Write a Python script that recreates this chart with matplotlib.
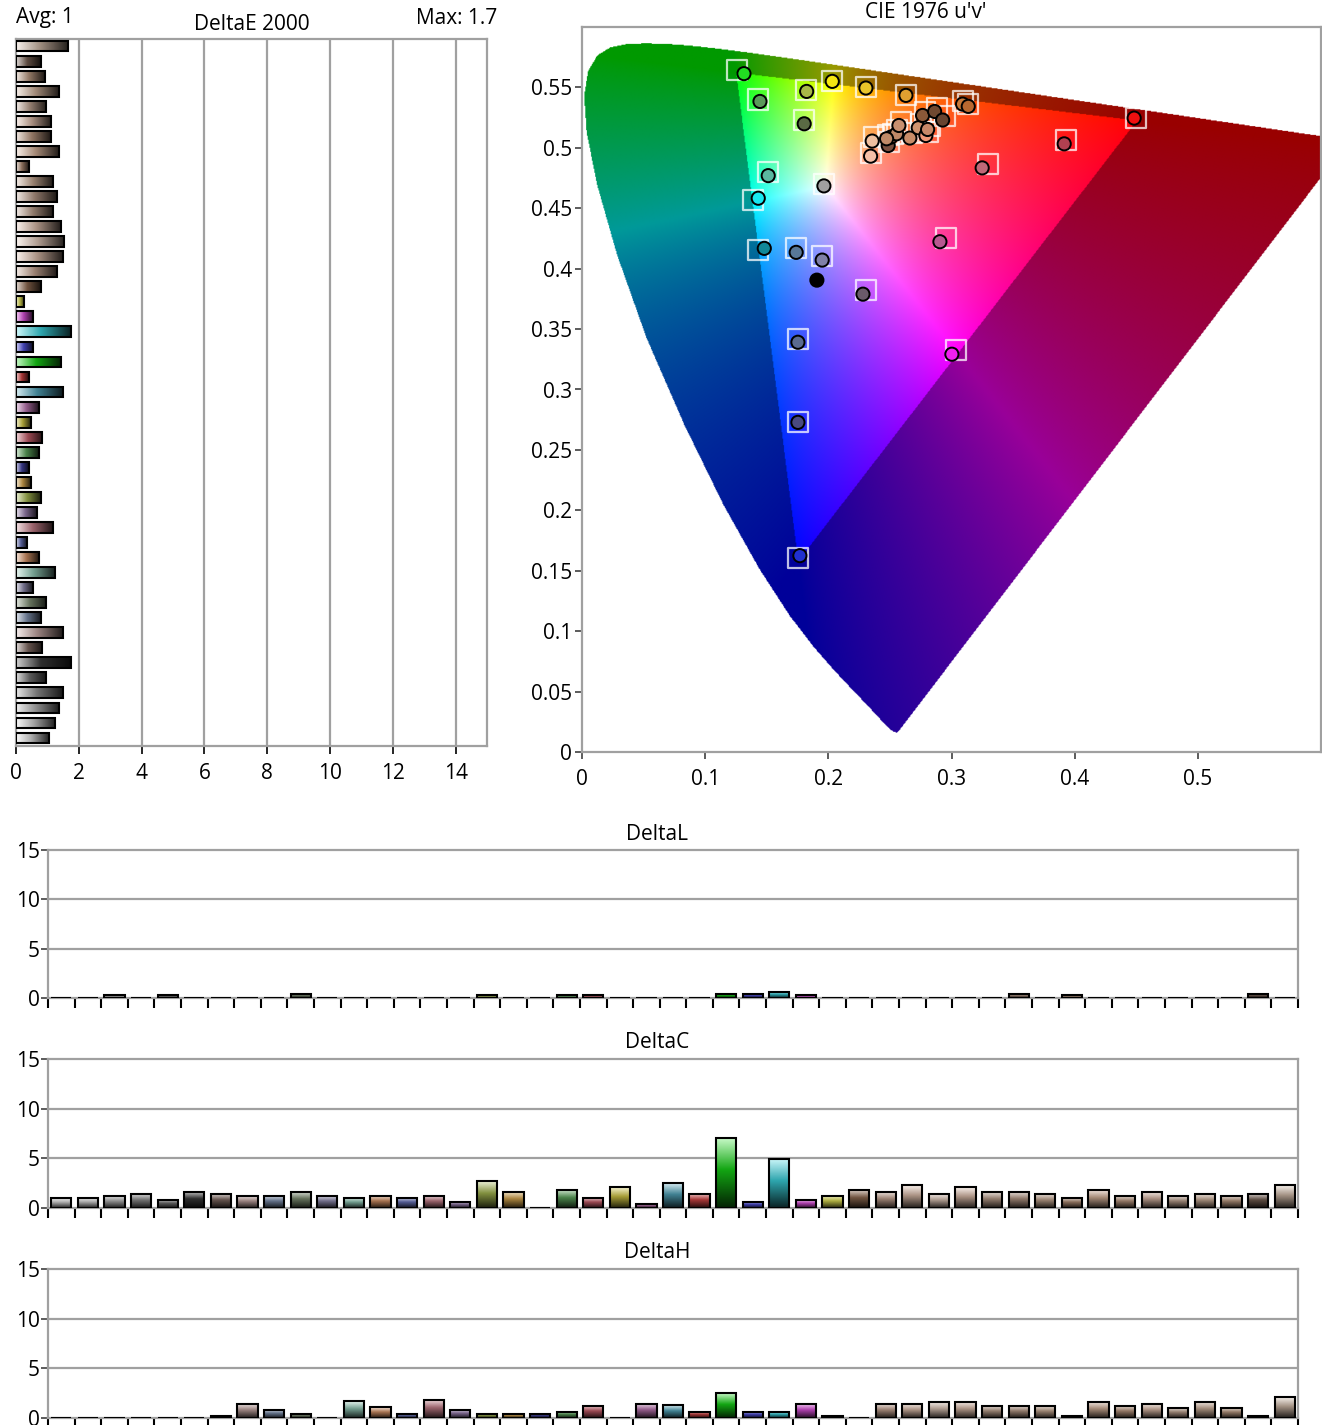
import numpy as np
import matplotlib.pyplot as plt
import matplotlib.colors as mcolors
from matplotlib.path import Path

plt.rcParams['font.family'] = ['Open Sans', 'DejaVu Sans']

# ---- per patch results (patch 1 first) ----
delta_e = [1.04, 1.23, 1.36, 1.49, 0.97, 1.74, 0.84, 1.49, 0.79, 0.97,
           0.53, 1.23, 0.72, 0.34, 1.17, 0.66, 0.79, 0.47, 0.41, 0.72,
           0.84, 0.47, 0.72, 1.49, 0.41, 1.42, 0.53, 1.74, 0.53, 0.27,
           0.79, 1.29, 1.49, 1.54, 1.42, 1.17, 1.29, 1.17, 0.41, 1.36,
           1.11, 1.11, 0.97, 1.36, 0.91, 0.79, 1.66]
delta_l = [0, 0, 0.3, 0, 0.3, 0, 0, 0, 0, 0.45,
           0, 0, 0, 0, 0, 0, 0.3, 0, 0, 0.3,
           0.3, 0, 0, 0, 0, 0.45, 0.45, 0.65, 0.3, 0,
           0, 0, 0, 0, 0, 0, 0.45, 0, 0.3, 0,
           0, 0, 0, 0, 0, 0.45, 0]
delta_c = [1.03, 1.03, 1.24, 1.45, 0.83, 1.66, 1.45, 1.24, 1.24, 1.66,
           1.24, 1.03, 1.24, 1.03, 1.24, 0.62, 2.69, 1.66, 0, 1.86,
           1.03, 2.07, 0.41, 2.48, 1.45, 7.0, 0.62, 4.97, 0.83, 1.24,
           1.86, 1.66, 2.28, 1.45, 2.07, 1.66, 1.66, 1.45, 1.03, 1.86,
           1.24, 1.66, 1.24, 1.45, 1.24, 1.45, 2.28]
delta_h = [0, 0, 0, 0, 0, 0, 0.24, 1.45, 0.83, 0.41,
           0, 1.69, 1.07, 0.41, 1.86, 0.83, 0.41, 0.41, 0.41, 0.62,
           1.24, 0, 1.45, 1.28, 0.62, 2.48, 0.62, 0.62, 1.45, 0.24,
           0, 1.45, 1.45, 1.66, 1.66, 1.24, 1.24, 1.24, 0.24, 1.66,
           1.24, 1.45, 1.03, 1.66, 1.03, 0.24, 2.07]
patch_colors = ['#f4f4f4', '#e6e6e6', '#c8c8c8', '#a0a0a0', '#7c7c7c', '#404040',
                '#8c746c', '#d8b8b4', '#8ca0c0', '#8c9e80', '#9e9ac0', '#a0dcc8',
                '#e8a070', '#7480cc', '#d88c98', '#a88cc0', '#b4c858', '#ecb858',
                '#4c4cb4', '#66b466', '#d86674', '#e6da4c', '#cc80c0', '#5ab4cc',
                '#e64c4c', '#1ae61a', '#5a5af2', '#40e6f2', '#f25af2', '#f2f25a',
                '#9c7458', '#d8b4a0', '#eeccb8', '#f2d8c8', '#eeccb8', '#ccae9a',
                '#c8a894', '#d8b8a0', '#c09a80', '#e6c0a6', '#cca68c', '#ecc8b4',
                '#d0b29e', '#e0c0a8', '#cca88e', '#80685a', '#e0c8b4']

# ---- CIE 1976 u'v' points ----
meas_u = [0.1315, 0.1445, 0.1824, 0.1804, 0.2032, 0.2305, 0.2630, 0.1512, 0.1431, 0.1964,
          0.1480, 0.1739, 0.1950, 0.1907, 0.2281, 0.1753, 0.1753, 0.1769, 0.2906, 0.3003,
          0.4483, 0.3915, 0.3249, 0.3090, 0.3136, 0.2356, 0.2343, 0.2486, 0.2508, 0.2554,
          0.2573, 0.2662, 0.2730, 0.2792, 0.2806, 0.2765, 0.2863, 0.2928, 0.2473]
meas_v = [0.5614, 0.5384, 0.5467, 0.5199, 0.5550, 0.5495, 0.5434, 0.4770, 0.4583, 0.4685,
          0.4168, 0.4135, 0.4071, 0.3905, 0.3789, 0.3391, 0.2728, 0.1625, 0.4223, 0.3292,
          0.5246, 0.5033, 0.4834, 0.5362, 0.5343, 0.5056, 0.4931, 0.5019, 0.5089, 0.5116,
          0.5185, 0.5081, 0.5166, 0.5102, 0.5152, 0.5268, 0.5301, 0.5230, 0.5075]
target_u = [0.1256, 0.1431, 0.1818, 0.1804, 0.2032, 0.2305, 0.2630, 0.1512, 0.1386, 0.1964,
            0.1431, 0.1739, 0.1950, np.nan, 0.2305, 0.1753, 0.1753, 0.1753, 0.2955, 0.3036,
            0.4499, 0.3931, 0.3298, 0.3090, 0.3136, 0.2370, 0.2346, 0.2492, 0.2524, 0.2557,
            0.2589, 0.2679, 0.2752, 0.2808, 0.2825, 0.2784, 0.2881, 0.2946, 0.2484]
target_v = [0.5647, 0.5400, 0.5481, 0.5232, 0.5550, 0.5504, 0.5434, 0.4803, 0.4569, 0.4699,
            0.4154, 0.4171, 0.4107, np.nan, 0.3823, 0.3416, 0.2728, 0.1609, 0.4251, 0.3325,
            0.5249, 0.5066, 0.4866, 0.5384, 0.5362, 0.5091, 0.4959, 0.5050, 0.5116, 0.5149,
            0.5216, 0.5124, 0.5199, 0.5133, 0.5182, 0.5299, 0.5333, 0.5265, 0.5104]
point_colors = ['#22dd22', '#5a9a5a', '#a8b848', '#5a6a44', '#f5e612', '#e8c42a', '#e0a030',
                '#5ab8a0', '#18e8f0', '#a0a0a0', '#108898', '#587898', '#8080a8', '#000000',
                '#6a5a6a', '#5a6a90', '#4a4a80', '#2030d0', '#b85890', '#f020f0', '#f01010',
                '#b04050', '#c06878', '#c87838', '#b86830', '#f0c0a0', '#f5c0a8', '#7a5040',
                '#b88060', '#c08868', '#c89070', '#c88c68', '#d09470', '#f09878', '#c88868',
                '#8a5838', '#704830', '#684430', '#c08a68']

# CIE 1931 spectral locus (x, y), 380-700 nm
locus_x = [0.1741, 0.1738, 0.1733, 0.1726, 0.1714, 0.1703, 0.1689, 0.1669, 0.1644, 0.1611,
           0.1566, 0.1510, 0.1440, 0.1355, 0.1241, 0.1096, 0.0913, 0.0687, 0.0454, 0.0235,
           0.0082, 0.0039, 0.0139, 0.0389, 0.0743, 0.1142, 0.1547, 0.1929, 0.2296, 0.2658,
           0.3016, 0.3373, 0.3731, 0.4087, 0.4441, 0.4788, 0.5125, 0.5448, 0.5752, 0.6029,
           0.6270, 0.6482, 0.6658, 0.6801, 0.6915, 0.7006, 0.7079, 0.7140, 0.7190, 0.7230,
           0.7260, 0.7283, 0.7300, 0.7320, 0.7334, 0.7347]
locus_y = [0.0050, 0.0049, 0.0048, 0.0048, 0.0051, 0.0058, 0.0069, 0.0086, 0.0109, 0.0138,
           0.0177, 0.0227, 0.0297, 0.0399, 0.0578, 0.0868, 0.1327, 0.2007, 0.2950, 0.4127,
           0.5384, 0.6548, 0.7502, 0.8120, 0.8338, 0.8262, 0.8059, 0.7816, 0.7543, 0.7243,
           0.6923, 0.6589, 0.6245, 0.5896, 0.5547, 0.5202, 0.4866, 0.4544, 0.4242, 0.3965,
           0.3725, 0.3514, 0.3340, 0.3197, 0.3083, 0.2993, 0.2920, 0.2859, 0.2809, 0.2770,
           0.2740, 0.2717, 0.2700, 0.2680, 0.2666, 0.2653]

W, H = 1322, 1425
GRID = '#a0a0a0'
FS = 15
fig = plt.figure(figsize=(W / 100, H / 100), dpi=100)


def fax(left, top, right, bottom):
    return fig.add_axes([left / W, 1 - bottom / H, (right - left) / W, (bottom - top) / H])


def ramp(color, n=64):
    c = np.array(mcolors.to_rgb(color))
    t = np.linspace(0, 1, n)[:, None]
    light = 1 - (1 - c) * 0.25
    mid = c * 0.72
    dark = c * 0.15
    return np.where(t < 0.45, light + (mid - light) * (t / 0.45),
                    mid + (dark - mid) * ((t - 0.45) / 0.55))


def style_frame(ax):
    for s in ax.spines.values():
        s.set_color(GRID)
        s.set_linewidth(1.6)


# ---------- DeltaE 2000 ----------
n = len(delta_e)
ax = fax(16, 39, 487, 746)
ypos = np.arange(n)
for i, val in enumerate(delta_e):
    g = ramp(patch_colors[i])[None, :, :]
    ax.imshow(g, extent=[0, val, i - 0.36, i + 0.36], aspect='auto', zorder=3,
              interpolation='bilinear')
ax.barh(ypos, delta_e, height=0.72, fill=False, edgecolor='black', linewidth=1.5, zorder=4)
ax.set_xlim(0, 15)
ax.set_ylim(-0.53, n - 0.53)
ax.set_xticks(range(0, 15, 2))
ax.set_yticks([])
for x in range(2, 15, 2):
    ax.axvline(x, color=GRID, lw=1.6, zorder=1)
ax.tick_params(axis='x', direction='out', length=6, width=1.2, labelsize=FS, pad=6, color='black')
style_frame(ax)
fig.text(16 / W, 1 - 18 / H, 'Avg: 1', fontsize=FS, va='center', ha='left')
fig.text(252 / W, 1 - 24 / H, 'DeltaE 2000', fontsize=FS, va='center', ha='center')
fig.text(497 / W, 1 - 18 / H, 'Max: 1.7', fontsize=FS, va='center', ha='right')

# ---------- CIE 1976 u'v' ----------
ax = fax(582, 27, 1321, 752)
lx = np.array(locus_x)
ly = np.array(locus_y)
den = -2 * lx + 12 * ly + 3
lu = 4 * lx / den
lv = 9 * ly / den
locus = Path(np.column_stack([np.append(lu, lu[0]), np.append(lv, lv[0])]))

res = 900
uu = np.linspace(0, 0.6, res)
U, V = np.meshgrid(uu, uu)
d = 6 * U - 16 * V + 12
cx = 9 * U / d
cy = np.maximum(4 * V / d, 1e-6)
XYZ = np.stack([cx / cy, np.ones_like(cx), (1 - cx - cy) / cy], axis=-1)
M = np.array([[3.2406, -1.5372, -0.4986],
              [-0.9689, 1.8758, 0.0415],
              [0.0557, -0.2040, 1.0570]])
rgb = XYZ @ M.T
outside = rgb.min(axis=-1) < 0
rgb = np.clip(rgb, 0, None)
rgb = rgb / np.maximum(rgb.max(axis=-1, keepdims=True), 1e-9)
rgb = rgb ** 0.8
rgb[outside] *= 0.6
inside = locus.contains_points(np.column_stack([U.ravel(), V.ravel()])).reshape(U.shape)
rgba = np.dstack([rgb, inside.astype(float)])
ax.imshow(rgba, origin='lower', extent=[0, 0.6, 0, 0.6], interpolation='bilinear',
          aspect='auto', zorder=1)

ax.scatter(target_u, target_v, s=210, marker='s', facecolors='none',
           edgecolors=(1, 1, 1, 0.75), linewidths=1.6, zorder=3)
ax.scatter(meas_u, meas_v, s=90, c=point_colors, edgecolors='black', linewidths=1.4, zorder=4)
ax.set_xlim(0, 0.6)
ax.set_ylim(0, 0.6)
xt = [0, 0.1, 0.2, 0.3, 0.4, 0.5]
ax.set_xticks(xt)
ax.set_xticklabels(['0', '0.1', '0.2', '0.3', '0.4', '0.5'])
yt = [0, 0.05, 0.1, 0.15, 0.2, 0.25, 0.3, 0.35, 0.4, 0.45, 0.5, 0.55]
ax.set_yticks(yt)
ax.set_yticklabels(['0', '0.05', '0.1', '0.15', '0.2', '0.25', '0.3', '0.35', '0.4',
                    '0.45', '0.5', '0.55'])
ax.tick_params(direction='out', length=5, width=1.2, labelsize=FS, pad=2, color='#404040')
ax.tick_params(axis='x', pad=7)
style_frame(ax)
fig.text(926 / W, 1 - 12 / H, "CIE 1976 u'v'", fontsize=FS, va='center', ha='center')

# ---------- DeltaL / DeltaC / DeltaH ----------
panels = [('DeltaL', delta_l, 850, 998), ('DeltaC', delta_c, 1059, 1208),
          ('DeltaH', delta_h, 1269, 1418)]
xs = np.arange(n) + 0.5
for name, vals, top, bot in panels:
    ax = fax(48, top, 1298, bot)
    for x in (5, 10):
        ax.axhline(x, color=GRID, lw=1.6, zorder=1)
    for i, val in enumerate(vals):
        if val > 0:
            g = ramp(patch_colors[i])[:, None, :]
            ax.imshow(g, extent=[xs[i] - 0.38, xs[i] + 0.38, 0, val], aspect='auto',
                      zorder=3, interpolation='bilinear')
    ax.bar(xs, vals, width=0.76, fill=False, edgecolor='black', linewidth=1.5, zorder=4)
    ax.set_xlim(0, n)
    ax.set_ylim(0, 15)
    ax.set_xticks(np.arange(n + 1))
    ax.set_xticklabels([])
    ax.set_yticks([0, 5, 10, 15])
    ax.tick_params(axis='x', direction='out', length=7, width=1.5, color='black')
    ax.tick_params(axis='y', direction='out', length=5, width=1.2, labelsize=FS, pad=1,
                   color='#404040')
    style_frame(ax)
    fig.text(657 / W, 1 - (top - 16) / H, name, fontsize=FS, va='center', ha='center')

fig.savefig('out.png', dpi=100)
